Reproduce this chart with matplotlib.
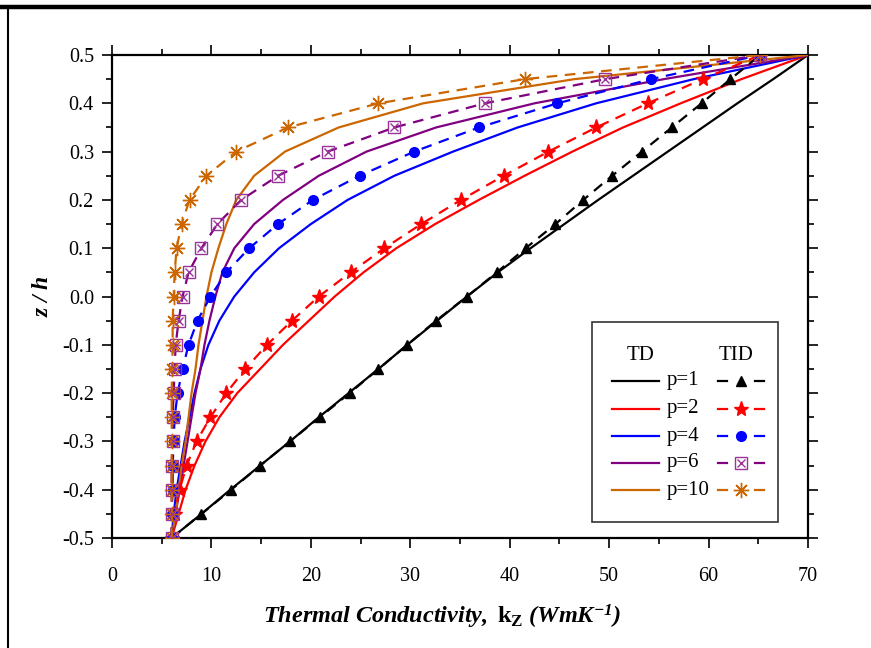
import numpy as np
import matplotlib
matplotlib.use('Agg')
import matplotlib.pyplot as plt
from matplotlib.lines import Line2D
from matplotlib.patches import Rectangle

plt.rcParams['font.family'] = ['Liberation Serif', 'DejaVu Serif']
plt.rcParams['mathtext.fontset'] = 'custom'
plt.rcParams['mathtext.rm'] = 'Liberation Serif'
plt.rcParams['mathtext.it'] = 'Liberation Serif:italic'
plt.rcParams['mathtext.bf'] = 'Liberation Serif:bold'
plt.rcParams['mathtext.bfit'] = 'Liberation Serif:bold:italic'

# z/h positions
z = [-0.5, -0.45, -0.4, -0.35, -0.3, -0.25, -0.2, -0.15, -0.1, -0.05, 0.0,
     0.05, 0.1, 0.15, 0.2, 0.25, 0.3, 0.35, 0.4, 0.45, 0.5]

# TD (solid lines)
td_p1 = [6.0, 9.0, 11.9, 14.9, 17.9, 20.8, 23.8, 26.8, 29.7, 32.7, 35.7,
         38.8, 42.1, 45.5, 48.9, 52.4, 55.9, 59.4, 62.9, 66.5, 70.0]
td_p2 = [6.0, 6.7, 7.4, 8.3, 9.4, 10.8, 12.6, 14.9, 17.2, 19.8, 22.4,
         25.3, 28.6, 32.5, 36.9, 41.5, 46.3, 51.4, 57.2, 63.3, 70.0]
td_p4 = [6.0, 6.2, 6.5, 6.9, 7.3, 7.8, 8.3, 8.9, 9.7, 10.8, 12.3,
         14.3, 16.8, 20.0, 23.7, 28.4, 34.3, 40.8, 48.7, 58.5, 70.0]
td_p6 = [6.0, 6.4, 6.8, 7.2, 7.6, 8.0, 8.4, 8.9, 9.3, 9.8, 10.4,
         11.1, 12.3, 14.3, 17.2, 20.8, 25.6, 32.6, 42.5, 55.5, 70.0]
td_p10 = [6.0, 6.4, 6.7, 7.0, 7.4, 7.7, 8.0, 8.4, 8.7, 9.1, 9.5,
          10.0, 10.7, 11.5, 12.5, 14.3, 17.4, 22.8, 31.3, 46.5, 70.0]

# TID (dashed lines with markers)
tid_p1 = [6.0, 9.0, 12.0, 14.9, 17.9, 20.9, 23.9, 26.8, 29.7, 32.6, 35.7,
          38.7, 41.6, 44.6, 47.4, 50.3, 53.3, 56.3, 59.3, 62.2, 65.2]
tid_p2 = [6.0, 6.3, 6.8, 7.5, 8.5, 9.9, 11.5, 13.4, 15.6, 18.1, 20.8,
          24.0, 27.4, 31.1, 35.1, 39.4, 43.9, 48.7, 53.9, 59.4, 65.2]
tid_p4 = [6.0, 6.0, 6.1, 6.1, 6.2, 6.3, 6.6, 7.1, 7.7, 8.6, 9.9,
          11.5, 13.8, 16.7, 20.2, 24.9, 30.4, 36.9, 44.8, 54.2, 65.2]
tid_p6 = [6.0, 6.0, 6.0, 6.0, 6.1, 6.1, 6.2, 6.3, 6.4, 6.7, 7.1,
          7.7, 9.0, 10.6, 13.0, 16.7, 21.7, 28.4, 37.5, 49.6, 65.2]
tid_p10 = [6.0, 6.0, 6.0, 6.0, 6.0, 6.0, 6.0, 6.05, 6.1, 6.1, 6.2,
           6.3, 6.5, 7.0, 7.8, 9.5, 12.5, 17.7, 26.8, 41.5, 65.2]

labels = ['p=1', 'p=2', 'p=4', 'p=6', 'p=10']
colors = ['black', '#FF0000', '#0000FF', '#800080', '#CC6600']
td_all = [td_p1, td_p2, td_p4, td_p6, td_p10]
tid_all = [tid_p1, tid_p2, tid_p4, tid_p6, tid_p10]

ytick_vals = [-0.5, -0.4, -0.3, -0.2, -0.1, 0.0, 0.1, 0.2, 0.3, 0.4, 0.5]
ytick_labels = ['-0.5', '-0.4', '-0.3', '-0.2', '-0.1', '0.0',
                '0.1', '0.2', '0.3', '0.4', '0.5']

dash = (0, (4.8, 3.4))

fig = plt.figure(figsize=(8.71, 6.48), dpi=100)
ax = fig.add_axes([112 / 871, 1 - 538 / 648, 696 / 871, 483 / 648])


def marker_kw(i, col):
    if i == 0:
        return dict(marker='^', ms=7, mfc=col, mec=col)
    if i == 1:
        return dict(marker='*', ms=11, mfc=col, mec=col)
    if i == 2:
        return dict(marker='o', ms=7, mfc=col, mec=col)
    if i == 3:
        return dict(marker='s', ms=8, mfc='none', mec='#993399', mew=1.0)
    return dict(marker=(8, 2, 0), ms=11, mfc=col, mec=col, mew=1.0)


for i in range(5):
    col = colors[i]
    ax.plot(td_all[i], z, color=col, lw=1.6, zorder=3)
    ax.plot(tid_all[i], z, color=col, lw=1.6, ls=dash, zorder=4,
            **marker_kw(i, col))
    if i == 3:
        ax.plot(tid_all[i], z, ls='none', marker='x', ms=5.5,
                mec='#993399', mew=1.0, zorder=5)

ax.set_xlim(0, 70)
ax.set_ylim(-0.5, 0.5)
ax.set_xticks(np.arange(0, 71, 10))
ax.set_xticks(np.arange(0, 71, 5), minor=True)
ax.set_yticks(ytick_vals)
ax.set_yticks(np.arange(-0.5, 0.51, 0.05), minor=True)
ax.set_yticklabels(ytick_labels)
ax.tick_params(which='both', direction='out', top=True, right=True,
               labelsize=14.5, width=1.2, colors='black')
ax.tick_params(which='major', length=7, pad=6)
ax.tick_params(which='minor', length=4)
ax.tick_params(axis='x', which='major', pad=14)
for s in ax.spines.values():
    s.set_linewidth(1.6)

ax.set_xlabel(r'$\mathbfit{Thermal\ Conductivity,}\ \mathbf{k_Z}\ \mathbfit{(WmK^{-1})}$',
              fontsize=17.5)
ax.xaxis.set_label_coords((442 - 112) / 696, (538 - 617) / 483)
ax.set_ylabel(r'$\mathbfit{z\ /\ h}$', fontsize=17)
ax.yaxis.set_label_coords((42 - 112) / 696, 0.5)
ax.xaxis.label.set_va('center')
ax.yaxis.label.set_va('center')

# legend box drawn in axes coordinates
tr = ax.transAxes


def ax_xy(px, py):
    return ((px - 112) / 696, (538 - py) / 483)


x0, y0 = ax_xy(592, 522)
x1, y1 = ax_xy(778, 322)
ax.add_patch(Rectangle((x0, y0), x1 - x0, y1 - y0, transform=tr,
                       facecolor='white', edgecolor='#333333', lw=1.2, zorder=10))
hx, hy = ax_xy(641, 356)
ax.text(hx, hy, 'TD', transform=tr, ha='center', va='center', fontsize=15, zorder=11)
hx, hy = ax_xy(736, 356)
ax.text(hx, hy, 'TID', transform=tr, ha='center', va='center', fontsize=15, zorder=11)
rows = [381, 409, 436, 463, 490]
for i in range(5):
    col = colors[i]
    a, yy = ax_xy(612, rows[i])
    b, _ = ax_xy(659, rows[i])
    ax.add_line(Line2D([a, b], [yy, yy], transform=tr, color=col, lw=1.6, zorder=11))
    lx, _ = ax_xy(667, rows[i])
    ax.text(lx, yy, labels[i], transform=tr, ha='left', va='center', fontsize=15, zorder=11)
    for sx0, sx1 in [(718, 727), (755, 764)]:
        a, _ = ax_xy(sx0, rows[i])
        b, _ = ax_xy(sx1, rows[i])
        ax.add_line(Line2D([a, b], [yy, yy], transform=tr, color=col, lw=1.6, zorder=11))
    m, _ = ax_xy(741, rows[i])
    ax.add_line(Line2D([m], [yy], transform=tr, ls='none', zorder=12,
                       **marker_kw(i, col)))
    if i == 3:
        ax.add_line(Line2D([m], [yy], transform=tr, ls='none', marker='x', ms=5.5,
                           mec='#993399', mew=1.0, zorder=13))

# page frame lines
fig.add_artist(Line2D([0, 1], [1 - 7 / 648, 1 - 7 / 648], transform=fig.transFigure,
                      color='black', lw=3.2))
fig.add_artist(Line2D([8 / 871, 8 / 871], [0, 1 - 7 / 648], transform=fig.transFigure,
                      color='black', lw=1.5))

fig.savefig('out.png', dpi=100)
